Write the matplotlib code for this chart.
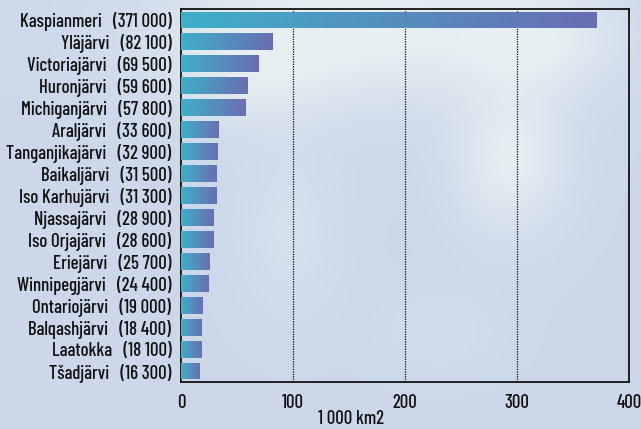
import matplotlib
matplotlib.use("Agg")
import matplotlib.pyplot as plt
import numpy as np
from matplotlib.colors import LinearSegmentedColormap

plt.rcParams['font.family'] = ['Barlow Condensed', 'DejaVu Sans']

lakes = ["Kaspianmeri", "Yläjärvi", "Victoriajärvi", "Huronjärvi", "Michiganjärvi",
         "Araljärvi", "Tanganjikajärvi", "Baikaljärvi", "Iso Karhujärvi", "Njassajärvi",
         "Iso Orjajärvi", "Eriejärvi", "Winnipegjärvi", "Ontariojärvi", "Balqashjärvi",
         "Laatokka", "Tšadjärvi"]
areas = [371000, 82100, 69500, 59600, 57800, 33600, 32900, 31500, 31300, 28900,
         28600, 25700, 24400, 19000, 18400, 18100, 16300]
xticks = [0, 100, 200, 300, 400]

W, H = 641, 429
fig = plt.figure(figsize=(W / 100, H / 100), dpi=100)

# soft cloudy backdrop
bg = fig.add_axes([0, 0, 1, 1], zorder=-10)
yy, xx = np.mgrid[0:H, 0:W]
field = np.zeros((H, W))
for cx, cy, sx, sy, a in [(370, 30, 190, 70, 1.0), (510, 160, 55, 70, 0.9),
                          (540, 40, 70, 50, 0.6), (290, 230, 50, 80, 0.35),
                          (250, 70, 80, 60, 0.5), (440, 330, 60, 40, 0.2)]:
    field += a * np.exp(-(((xx - cx) / sx) ** 2 + ((yy - cy) / sy) ** 2))
field = np.clip(field, 0, 1)
base = np.array([0.80, 0.85, 0.92])
light = np.array([0.91, 0.94, 0.95])
img = base[None, None, :] * (1 - field[..., None]) + light[None, None, :] * field[..., None]
bg.imshow(img, aspect='auto', extent=[0, 1, 0, 1], origin='upper')
bg.axis('off')

ax = fig.add_axes([181 / W, 1 - 382 / H, (629 - 181) / W, (382 - 9) / H])
ax.set_facecolor('none')

vals = np.array(areas) / 1000
pos = np.arange(len(lakes))
bars = ax.barh(pos, vals, height=0.77, color='none', edgecolor='none', zorder=3)

cmap = LinearSegmentedColormap.from_list('lake', ['#3eb0c9', '#6a6db2'])
grad = np.linspace(0, 1, 256).reshape(1, -1)
for b in bars:
    x0, y0 = b.get_x(), b.get_y()
    im = ax.imshow(grad, cmap=cmap, aspect='auto', zorder=3,
                   extent=[x0, x0 + b.get_width(), y0, y0 + b.get_height()])
    im.set_clip_path(b)

ax.set_xlim(0, 400)
ax.set_ylim(len(lakes) - 0.5, -0.5)
ax.set_xticks(xticks)
ax.set_xticklabels([str(t) for t in xticks])
ax.set_yticks(pos)
ax.set_yticklabels(["%s   (%s)" % (n, format(v, ',').replace(',', ' ')) for n, v in zip(lakes, areas)])
ax.tick_params(length=0, labelsize=13.5, pad=7)
ax.tick_params(axis='x', pad=9)
for t in ax.get_yticklabels() + ax.get_xticklabels():
    t.set_fontweight(500)
    t.set_color('#111111')

for x in xticks[1:-1]:
    ax.axvline(x, color='black', linestyle=(0, (1, 1)), linewidth=0.9, zorder=1)
for s in ax.spines.values():
    s.set_linewidth(1.3)
    s.set_color('#111111')

fig.text(351 / W, 1 - 419 / H, "1 000 km2", ha='center', va='center',
         fontsize=13.5, fontweight=500, color='#111111')

fig.savefig("out.png", dpi=100)
